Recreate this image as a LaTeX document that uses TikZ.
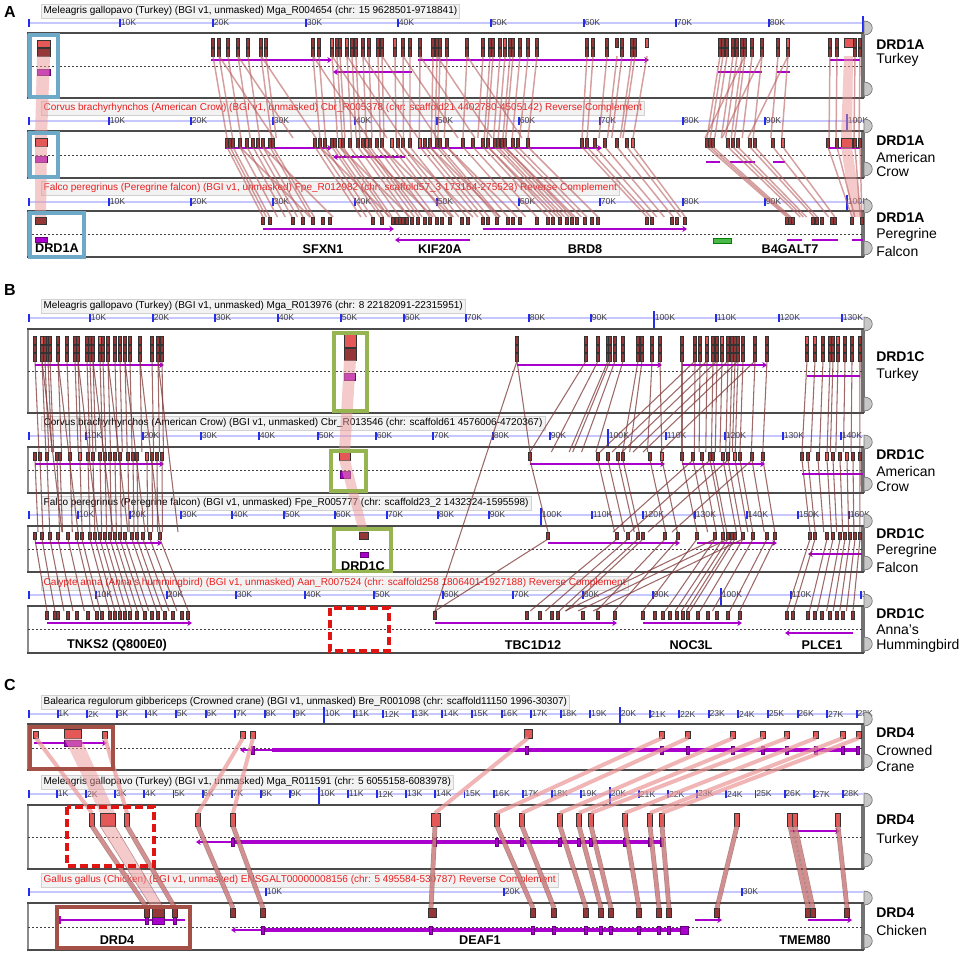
\documentclass[tikz,border=0pt]{standalone}
\usepackage{fontspec}
\setmainfont{Liberation Sans}
\usetikzlibrary{arrows.meta}

\definecolor{exondark}{RGB}{150,55,55}
\definecolor{exonlight}{RGB}{228,88,88}
\definecolor{genepurple}{RGB}{170,0,205}
\definecolor{linkred}{RGB}{185,95,95}
\definecolor{linkbrown}{RGB}{125,55,55}
\definecolor{linkpink}{RGB}{235,150,150}
\definecolor{tickblue}{RGB}{35,45,235}
\definecolor{titlered}{RGB}{235,30,30}
\definecolor{boxblue}{RGB}{110,170,200}
\definecolor{boxgreen}{RGB}{150,180,80}
\definecolor{boxbrown}{RGB}{165,80,70}
\definecolor{dashred}{RGB}{225,20,20}
\definecolor{framegray}{RGB}{75,75,75}

\tikzset{
  panel/.style={font=\bfseries\fontsize{12}{14}\selectfont, inner sep=0},
  titlebox/.style={anchor=west, draw=black!18, fill=black!5, inner sep=1.8pt,
    font=\fontsize{7.5}{8.5}\selectfont},
  ticklabel/.style={anchor=west, inner sep=0.4pt, text=black!75,
    font=\fontsize{6.5}{7.5}\selectfont},
  tick/.style={draw=tickblue, line width=1.4pt},
  trackedge/.style={draw=framegray, line width=2.2pt},
  handle/.style={fill=black!22, draw=black!55, line width=0.5pt},
  dashrow/.style={draw=black!75, line width=0.45pt, dash pattern=on 1.6pt off 1.4pt},
  exon/.style={draw=black!80, fill=exondark, line width=0.45pt},
  exonhi/.style={draw=black!80, fill=exonlight, line width=0.45pt},
  gene/.style={draw=genepurple, line width=1.5pt},
  generev/.style={gene, {Stealth[length=3.5pt,width=4.5pt]}-},
  genefwd/.style={gene, -{Stealth[length=3.5pt,width=4.5pt]}},
  geneblock/.style={fill=genepurple, draw=genepurple!60!black, line width=0.4pt},
  linkA/.style={draw=linkred, line width=1.1pt, opacity=0.6},
  linkB/.style={draw=linkbrown, line width=0.8pt, opacity=0.75},
  linkC/.style={draw=linkpink, line width=3pt, opacity=0.7},
  linkCC/.style={draw=linkbrown, double=linkpink, double distance=2.6pt, line width=0.5pt, opacity=0.6},
  band/.style={fill=linkpink, opacity=0.5},
  hlbox/.style={line width=2.6pt},
  genelabel/.style={font=\bfseries\fontsize{9.5}{11}\selectfont, inner sep=0},
  genename/.style={anchor=west, inner sep=0, font=\bfseries\fontsize{10.5}{12}\selectfont},
  species/.style={anchor=west, inner sep=0, font=\fontsize{10.5}{12}\selectfont}
}

% ruler: y, list of x/label
\newcommand{\rulerline}[2]{%
  \draw[blue!22, line width=0.8pt] (28,#1) -- (863,#1);
  \draw[tick] (29,#1-4) -- (29,#1+4);
  \foreach \tx/\tl in {#2} {
    \draw[tick] (\tx,#1-4) -- (\tx,#1+4);
    \node[ticklabel] at (\tx,#1) {\tl};
  }
}
\newcommand{\bigtick}[2]{\draw[tick] (#1,#2-7) -- (#1,#2+10);}
% track frame: top y, bottom y
\newcommand{\trackframe}[2]{%
  \fill[white] (28,#1) rectangle (863,#2);
  \draw[black!45, line width=0.8pt] (28,#1) -- (28,#2);
  \draw[black!55, line width=2.4pt] (863,#1) -- (863,#2);
  \draw[trackedge] (27,#1) -- (864,#1);
  \draw[trackedge] (27,#2) -- (864,#2);
  \draw[handle] (864,#1-12) .. controls (875,#1-12) and (875,#1+2) .. (864,#1+2) -- cycle;
  \draw[handle] (864,#2-16) .. controls (875,#2-16) and (875,#2-2) .. (864,#2-2) -- cycle;
}
% exons: style, top y, bottom y, half width, list of x
\newcommand{\exonrow}[5]{%
  \foreach \ex in {#5} {\draw[#1] (\ex-#4,#2) rectangle (\ex+#4,#3);}
}

\begin{document}
\begin{tikzpicture}[x=0.75pt,y=-0.75pt]
\useasboundingbox (0,0) rectangle (964,954);

%%%%%%%%%%%%%%%%%%%% A
\node[panel] (pA) at (10,12) {A};
\node[titlebox] (tA1) at (41,11) {Meleagris gallopavo (Turkey) (BGI v1, unmasked) Mga\_R004654 (chr: 15 9628501-9718841)};
\rulerline{23}{120/10K,213/20K,306/30K,398/40K,491/50K,584/60K,676/70K,769/80K}
\bigtick{863}{23}
\trackframe{33}{98}
\draw[dashrow] (28,66) -- (863,66);

\node[titlebox, text=titlered] (tA2) at (41,108) {Corvus brachyrhynchos (American Crow) (BGI v1, unmasked) Cbr\_R005378 (chr: scaffold21 4402780-4505142) Reverse Complement};
\rulerline{121}{109/10K,191/20K,273/30K,355/40K,437/50K,519/60K,600/70K,683/80K,765/90K,847/100K}
\bigtick{847}{121}
\trackframe{131}{178}
\draw[dashrow] (28,155) -- (863,155);

\node[titlebox, text=titlered] (tA3) at (41,188) {Falco peregrinus (Peregrine falcon) (BGI v1, unmasked) Fpe\_R012982 (chr: scaffold57\_3 173164-275523) Reverse Complement};
\rulerline{202}{109/10K,191/20K,273/30K,355/40K,437/50K,519/60K,600/70K,683/80K,765/90K,847/100K}
\bigtick{847}{202}
\trackframe{211}{257}
\draw[dashrow] (28,234) -- (863,234);

% gene models A
\draw[geneblock] (37,69) rectangle (50,75);
\draw[genefwd] (211,60) -- (332,60);
\draw[generev] (333,72) -- (412,72);
\draw[genefwd] (418,60) -- (649,60);
\draw[gene] (718,72) -- (762,72);
\draw[gene] (777,72) -- (790,72);
\draw[gene] (830,60) -- (860,60);
\draw[geneblock] (35,156) rectangle (47,162);
\draw[genefwd] (225,148) -- (332,148);
\draw[generev] (333,157) -- (405,157);
\draw[genefwd] (418,148) -- (602,148);
\draw[gene] (706,162) -- (720,162);
\draw[gene] (730,162) -- (755,162);
\draw[gene] (773,162) -- (785,162);
\draw[gene] (828,148) -- (860,148);
\draw[geneblock] (35,237) rectangle (47,242);
\draw[genefwd] (263,229) -- (394,229);
\draw[generev] (395,240) -- (470,240);
\draw[genefwd] (483,229) -- (687,229);
\draw[fill=green!60!black!70, draw=green!50!black] (713,238) rectangle (731,243);
\draw[gene] (787,240) -- (802,240);
\draw[gene] (812,240) -- (838,240);
\draw[gene] (852,240) -- (863,240);

% exons A
\exonrow{exon}{38}{47}{1.4}{213,219,228,238,248,261,266,313,319,332,337,340,347,352,356,363,369,378,382,395,403,410,420,433,437,440,447,467,483,490,493,500,505,510,513,520,528,537,587,593,607,617,622,632,635,647,720,723,727,733,737,742,745,752,762,778,788,830,837,855,860}
\exonrow{exon}{48}{56}{1.4}{213,219,228,238,248,261,266,313,319,332,337,340,347,352,356,363,369,378,382,395,403,410,420,433,437,440,447,467,483,490,493,500,505,510,513,520,528,537,587,593,607,622,632,635,720,723,727,733,737,742,745,752,762,778,788,830,837,855,860}
\exonrow{exonhi}{38}{47}{1.6}{332,347,395,505,647,788}
\draw[exonhi] (37,40) rectangle (50,47);
\draw[exon] (37,48) rectangle (50,56);
\draw[exonhi] (844,38) rectangle (853,47);
\exonrow{exon}{138}{147}{1.4}{227,230,233,240,247,253,258,263,270,273,315,320,325,332,335,340,343,350,358,363,367,370,377,382,392,398,403,410,420,425,430,437,440,447,463,473,483,488,495,498,502,505,513,518,528,582,587,595,605,617,627,633,707,710,713,728,733,738,750,755,773,783,828,837,855,860}
\exonrow{exonhi}{138}{147}{1.6}{340,367,392,420,633,783}
\draw[exonhi] (35,138) rectangle (47,146);
\draw[exonhi] (841,138) rectangle (852,147);
\exonrow{exon}{217}{224}{1.4}{263,270,293,303,313,323,330,373,382,393,397,400,403,407,412,418,425,430,437,442,450,462,468,483,488,497,508,513,520,537,548,553,560,567,572,577,585,592,598,647,652,672,677,685,787,790,793,813,817,822,832,835,852,862}
\draw[exon] (35,217) rectangle (46,224);

% links A
\fill[band] (37,56) -- (50,56) -- (47,138) -- (35,138) -- cycle;
\fill[band] (35,146) -- (47,146) -- (46,217) -- (35,217) -- cycle;
\fill[band] (844,56) -- (853,56) -- (852,138) -- (841,138) -- cycle;
\fill[band] (841,147) -- (852,147) -- (862,217) -- (852,217) -- cycle;
\foreach \x in {213,219,228,238,248,261,266,313,319,332,337,340,347,352,356,363,369,378,382,395,403,410,420,433,437,440,447,467,483,490,493,500,505,510,513,520,528,537}
  \draw[linkA] (\x,56) -- ({227+0.929*(\x-213)},138);
\foreach \x in {219,238,261,313,332,347,363,382,403,420,437,467}
  \draw[linkA] (\x,56) -- (\x+55,138);
\foreach \x in {587,593,607,617,622,632,635,647}
  \draw[linkA] (\x,56) -- ({582+0.85*(\x-587)},138);
\foreach \x in {720,723,727,733,737,742,745,752,762,778,788}
  \draw[linkA] (\x,56) -- ({707+1.1*(\x-720)},138);
\foreach \x in {745,762,788}
  \draw[linkA] (\x,56) -- (\x-40,138);
\foreach \x in {830,837,855,860}
  \draw[linkA] (\x,56) -- (\x-1,138);
\foreach \x in {227,230,233,240,247,253,258,263,270,273,315,320,325,332,335,340,343,350,358,363,367,370,377,382,392,398,403,410,420,425,430,437,440,447,463,473,483,488,495,498,502,505,513,518,528}
  \draw[linkA] (\x,147) -- ({263+1.113*(\x-227)},217);
\foreach \x in {240,263,320,340,363,382,403,430,447,488,505}
  \draw[linkA] (\x,147) -- (\x+70,217);
\foreach \x in {582,587,595,605,617,627,633}
  \draw[linkA] (\x,147) -- ({647+0.75*(\x-582)},217);
\foreach \x in {707,710,713,728,733,738,750,755,773,783}
  \draw[linkA] (\x,147) -- ({787+0.63*(\x-707)},217);
\foreach \x in {828,837,855,860}
  \draw[linkA] (\x,147) -- ({852+0.31*(\x-828)},217);

% highlight boxes A
\draw[hlbox, boxblue] (30,35) rectangle (58,97);
\draw[hlbox, boxblue] (30,133) rectangle (58,177);
\draw[hlbox, boxblue] (30,213) rectangle (84,257);

\node[genelabel] (gA1) at (57,248) {DRD1A};
\node[genelabel] (gA2) at (323,249) {SFXN1};
\node[genelabel] (gA3) at (440,249) {KIF20A};
\node[genelabel] (gA4) at (585,249) {BRD8};
\node[genelabel] (gA5) at (790,249) {B4GALT7};

\node[genename] (nA1) at (876,45) {DRD1A};
\node[species] (sA1) at (876,60) {Turkey};
\node[genename] (nA2) at (876,141) {DRD1A};
\node[species] (sA2) at (876,157) {American};
\node[species] (sA3) at (876,172) {Crow};
\node[genename] (nA3) at (876,218) {DRD1A};
\node[species] (sA4) at (876,235) {Peregrine};
\node[species] (sA5) at (876,251) {Falcon};

%%%%%%%%%%%%%%%%%%%% B
\node[panel] (pB) at (10,290) {B};
\node[titlebox] (tB1) at (41,306) {Meleagris gallopavo (Turkey) (BGI v1, unmasked) Mga\_R013976 (chr: 8 22182091-22315951)};
\rulerline{318}{90/10K,153/20K,215/30K,278/40K,341/50K,404/60K,466/70K,529/80K,591/90K,654/100K,716/110K,779/120K,842/130K}
\bigtick{654}{318}
\trackframe{329}{413}
\draw[dashrow] (28,371) -- (863,371);

\node[titlebox] (tB2) at (41,423) {Corvus brachyrhynchos (American Crow) (BGI v1, unmasked) Cbr\_R013546 (chr: scaffold61 4576006-4720367)};
\rulerline{436}{86/10K,143/20K,201/30K,259/40K,318/50K,376/60K,433/70K,493/80K,550/90K,608/100K,666/110K,725/120K,783/130K,841/140K}
\bigtick{608}{436}
\trackframe{447}{493}
\draw[dashrow] (28,470) -- (863,470);

\node[titlebox] (tB3) at (41,503) {Falco peregrinus (Peregrine falcon) (BGI v1, unmasked) Fpe\_R005777 (chr: scaffold23\_2 1432324-1595598)};
\rulerline{515}{78/10K,130/20K,181/30K,232/40K,284/50K,335/60K,387/70K,438/80K,489/90K,541/100K,592/110K,643/120K,695/130K,747/140K,798/150K,849/160K}
\bigtick{541}{515}
\trackframe{526}{572}
\draw[dashrow] (28,549) -- (863,549);

\node[titlebox, text=titlered] (tB4) at (41,583) {Calypte anna (Anna's hummingbird) (BGI v1, unmasked) Aan\_R007524 (chr: scaffold258 1806401-1927188) Reverse Complement};
\rulerline{595}{96/10K,167/20K,236/30K,305/40K,374/50K,443/60K,513/70K,583/80K,653/90K,721/100K,791/110K,861/1}
\bigtick{721}{595}
\trackframe{606}{653}
\draw[dashrow] (28,629) -- (863,629);

% gene models B
\draw[genefwd] (35,365) -- (164,365);
\draw[geneblock] (344,373) rectangle (355,380);
\draw[genefwd] (517,365) -- (662,365);
\draw[genefwd] (682,365) -- (767,365);
\draw[gene] (807,376) -- (860,376);
\draw[genefwd] (35,464) -- (164,464);
\draw[geneblock] (340,471) rectangle (350,478);
\draw[genefwd] (530,464) -- (665,464);
\draw[genefwd] (682,464) -- (765,464);
\draw[gene] (802,474) -- (863,474);
\draw[genefwd] (35,543) -- (162,543);
\draw[geneblock] (360,552) rectangle (368,557);
\draw[genefwd] (548,543) -- (680,543);
\draw[genefwd] (697,543) -- (777,543);
\draw[generev] (808,554) -- (862,554);
\draw[genefwd] (47,623) -- (192,623);
\draw[genefwd] (435,623) -- (617,623);
\draw[genefwd] (643,623) -- (742,623);
\draw[generev] (785,633) -- (853,633);

% exons B
\foreach \ya/\yb in {336/344,345/352,353/361}
  \exonrow{exon}{\ya}{\yb}{1.4}{35,42,45,48,50,58,67,75,78,87,90,93,100,103,108,115,120,125,130,140,152,158,162,517,586,598,608,610,615,623,638,642,652,660,682,695,700,707,713,717,722,728,732,735,738,743,755,767,807,815,823,830,833,838,845,852,860};
\exonrow{exonhi}{336}{344}{1.6}{42,100,707,722,807,815,838}
\draw[exonhi] (344,334) rectangle (356,347);
\draw[exon] (344,348) rectangle (356,360);
\exonrow{exon}{452}{460}{1.4}{35,40,47,57,60,70,80,88,93,100,105,110,115,120,128,133,137,147,152,157,162,530,598,608,618,623,650,662,682,693,702,710,713,723,728,735,740,752,763,802,808,818,827,833,840,847,853,860}
\exonrow{exonhi}{452}{460}{1.6}{80,147,662,735,827,847}
\draw[exonhi] (339,452) rectangle (350,460);
\exonrow{exon}{532}{539}{1.4}{35,42,50,58,68,77,82,90,95,100,105,110,115,120,125,132,137,143,150,160,548,617,628,638,643,665,678,697,715,723,728,732,735,743,753,767,775,810,815,827,833,840,845,850,855,860}
\draw[exon] (359,532) rectangle (368,539);
\exonrow{exon}{611}{619}{1.4}{47,55,58,68,77,88,97,102,110,115,120,125,130,137,145,152,158,165,173,182,188,435,527,540,552,558,583,598,615,643,655,663,670,677,683,688,698,708,717,728,740,787,793,808,815,822,830,837,843,853}

% links B
\fill[band] (344,360) -- (356,360) -- (350,452) -- (339,452) -- cycle;
\fill[band] (339,460) -- (350,460) -- (368,532) -- (359,532) -- cycle;
\foreach \x in {35,42,45,48,50,58,67,75,78,87,90,93,100,103,108,115,120,125,130,140,152,158,162}
  \draw[linkB] (\x,361) -- ({35+0.98*(\x-35)+4},452);
\foreach \x in {42,58,78,93,108,125,140,158}
  \draw[linkB] (\x,361) -- (\x+20,532);
\foreach \x in {35,40,47,57,60,70,80,88,93,100,105,110,115,120,128,133,137,147,152,157,162}
  \draw[linkB] (\x,460) -- ({35+0.98*(\x-35)+3},532);
\foreach \x in {35,42,50,58,68,77,82,90,95,100,105,110,115,120,125,132,137,143,150,160}
  \draw[linkB] (\x,539) -- ({47+1.13*(\x-35)},611);
\draw[linkB] (517,361) -- (435,611);
\draw[linkB] (517,361) -- (530,452);
\foreach \x in {586,598,608,610,615,623,638,642,652,660}
  \draw[linkB] (\x,361) -- ({530+1.78*(\x-586)},452);
\foreach \x in {682,695,700,707,713,717,722,728,732,735,738,743,755,767}
  \draw[linkB] (\x,361) -- ({682+0.95*(\x-682)},452);
\foreach \x in {695,707,717,728,738,755}
  \draw[linkB] (\x,361) -- (\x-95,452);
\foreach \x in {807,815,823,830,833,838,845,852,860}
  \draw[linkB] (\x,361) -- ({802+1.09*(\x-807)},452);
\foreach \x in {530,598,608,618,623,650,662}
  \draw[linkB] (\x,460) -- ({548+0.98*(\x-530)},532);
\foreach \x in {682,693,702,710,713,723,728,735,740,752,763}
  \draw[linkB] (\x,460) -- ({697+0.96*(\x-682)},532);
\foreach \x in {693,710,728,752}
  \draw[linkB] (\x,460) -- (\x-80,532);
\foreach \x in {802,808,818,827,833,840,847,853,860}
  \draw[linkB] (\x,460) -- ({810+0.86*(\x-802)},532);
\foreach \x in {548,617,628,638,643,665,678}
  \draw[linkB] (\x,539) -- ({435+1.38*(\x-548)},611);
\foreach \x in {697,715,723,728,732,735,743,753,767,775}
  \draw[linkB] (\x,539) -- ({643+1.24*(\x-697)},611);
\foreach \x in {715,728,743}
  \draw[linkB] (\x,539) -- (\x-150,611);
\foreach \x in {810,815,827,833,840,845,850,855,860}
  \draw[linkB] (\x,539) -- ({787+1.32*(\x-810)},611);

% highlight boxes B
\draw[hlbox, boxgreen] (334,333) rectangle (367,411);
\draw[hlbox, boxgreen] (331,451) rectangle (366,491);
\draw[hlbox, boxgreen] (334,529) rectangle (391,571);
\draw[hlbox, dashred, dash pattern=on 6pt off 3pt] (330,608) rectangle (389,651);

\node[genelabel] (gB1) at (363,566) {DRD1C};
\node[genelabel] (gB2) at (117,645) {TNKS2 (Q800E0)};
\node[genelabel] (gB3) at (533,645) {TBC1D12};
\node[genelabel] (gB4) at (691,645) {NOC3L};
\node[genelabel] (gB5) at (822,645) {PLCE1};

\node[genename] (nB1) at (876,357) {DRD1C};
\node[species] (sB1) at (876,375) {Turkey};
\node[genename] (nB2) at (876,455) {DRD1C};
\node[species] (sB2) at (876,471) {American};
\node[species] (sB3) at (876,487) {Crow};
\node[genename] (nB3) at (876,534) {DRD1C};
\node[species] (sB4) at (876,551) {Peregrine};
\node[species] (sB5) at (876,567) {Falcon};
\node[genename] (nB4) at (876,614) {DRD1C};
\node[species] (sB6) at (876,630) {Anna’s};
\node[species] (sB7) at (876,646) {Hummingbird};

%%%%%%%%%%%%%%%%%%%% C
\node[panel] (pC) at (10,685) {C};
\node[titlebox] (tC1) at (41,702) {Balearica regulorum gibbericeps (Crowned crane) (BGI v1, unmasked) Bre\_R001098 (chr: scaffold11150 1996-30307)};
\draw[blue!22, line width=0.8pt] (28,714) -- (863,714);
\draw[tick] (29,710) -- (29,718);
\foreach \k in {1,...,28} {
  \pgfmathsetmacro\tx{28+29.6*\k}
  \draw[tick] (\tx,710) -- (\tx,718);
  \node[ticklabel] at (\tx,714) {\k K};
}
\bigtick{324}{714}
\bigtick{620}{714}
\trackframe{724}{770}
\draw[dashrow] (28,748) -- (863,748);

\node[titlebox] (tC2) at (41,782) {Meleagris gallopavo (Turkey) (BGI v1, unmasked) Mga\_R011591 (chr: 5 6055158-6083978)};
\draw[blue!22, line width=0.8pt] (28,794) -- (863,794);
\draw[tick] (29,790) -- (29,798);
\foreach \k in {1,...,28} {
  \pgfmathsetmacro\tx{28+29.1*\k}
  \draw[tick] (\tx,790) -- (\tx,798);
  \node[ticklabel] at (\tx,794) {\k K};
}
\bigtick{319}{794}
\bigtick{610}{794}
\trackframe{805}{869}
\draw[dashrow] (28,837) -- (863,837);

\node[titlebox, text=titlered] (tC3) at (41,880) {Gallus gallus (Chicken) (BGI v1, unmasked) ENSGALT00000008156 (chr: 5 495584-530787) Reverse Complement};
\rulerline{892}{266/10K,504/20K,742/30K}
\trackframe{903}{950}
\draw[dashrow] (28,927) -- (863,927);

% gene models C
\draw[genefwd] (34,743) -- (107,743);
\draw[geneblock] (64,740) rectangle (81,746);
\draw[generev] (240,750) -- (858,750);
\draw[gene, line width=2.4pt] (272,750) -- (858,750);
\exonrow{geneblock}{746}{754}{1.6}{253,527,662,688,733,763,787,816,843,858}
\draw[generev] (196,842) -- (662,842);
\draw[gene, line width=2.4pt] (233,842) -- (662,842);
\exonrow{geneblock}{838}{846}{1.6}{233,435,497,522,560,579,591,625,650,662}
\draw[genefwd] (790,831) -- (840,831);
\draw[gene] (60,920) -- (185,920);
\draw[genepurple, line width=0.8pt] (60,916) -- (60,924);
\draw[geneblock] (152,916) rectangle (164,924);
\exonrow{geneblock}{916}{924}{1.5}{147,175}
\draw[generev] (231,930) -- (688,930);
\draw[gene, line width=2.4pt] (263,930) -- (688,930);
\draw[geneblock] (680,926) rectangle (688,934);
\exonrow{geneblock}{926}{934}{1.5}{263,431,533,554,586,601,611,639,659,669}
\draw[genefwd] (695,920) -- (722,920);
\draw[genefwd] (808,920) -- (852,920);

% exons C
\exonrow{exonhi}{731}{738}{2.3}{36,105,243,253,662,688,733,763,787,816,843,859}
\draw[exonhi] (64,729) rectangle (81,738);
\draw[exonhi] (524,729) rectangle (532,738);
\exonrow{exonhi}{813}{826}{2.3}{92,127,198,233,497,522,560,579,591,625,650,662,737,790,795,838}
\draw[exonhi] (100,813) rectangle (115,826);
\draw[exonhi] (431,813) rectangle (440,826);
\exonrow{exon}{908}{917}{2.6}{147,175,233,263,533,554,586,601,611,639,659,669,717,808,813,847}
\draw[exon] (152,908) rectangle (164,917);
\draw[exon] (428,908) rectangle (436,917);

% links C
\fill[band] (64,738) -- (81,738) -- (115,813) -- (100,813) -- cycle;
\fill[band, draw=linkbrown] (100,826) -- (115,826) -- (164,908) -- (152,908) -- cycle;
\foreach \a/\b in {36/92,105/127,243/198,253/233,528/435,662/497,688/522,733/560,763/579,787/591,816/625,843/650,859/662}
  \draw[linkC] (\a,738) -- (\b,813);
\foreach \a/\b in {92/147,127/175,198/233,233/263,435/431,497/533,522/554,560/586,579/601,591/611,625/639,650/659,662/669,737/717,790/808,795/813,838/847}
  \draw[linkCC] (\a,826) -- (\b,908);

% highlight boxes C
\draw[hlbox, boxbrown] (30,727) rectangle (113,769);
\draw[hlbox, dashred, dash pattern=on 6pt off 3pt] (67,807) rectangle (154,866);
\draw[hlbox, boxbrown] (57,907) rectangle (190,948);

\node[genelabel] (gC1) at (117,940) {DRD4};
\node[genelabel] (gC2) at (480,940) {DEAF1};
\node[genelabel] (gC3) at (805,940) {TMEM80};

\node[genename] (nC1) at (876,733) {DRD4};
\node[species] (sC1) at (876,750) {Crowned};
\node[species] (sC2) at (876,767) {Crane};
\node[genename] (nC2) at (876,820) {DRD4};
\node[species] (sC3) at (876,840) {Turkey};
\node[genename] (nC3) at (876,913) {DRD4};
\node[species] (sC4) at (876,930) {Chicken};
\end{tikzpicture}
\end{document}
